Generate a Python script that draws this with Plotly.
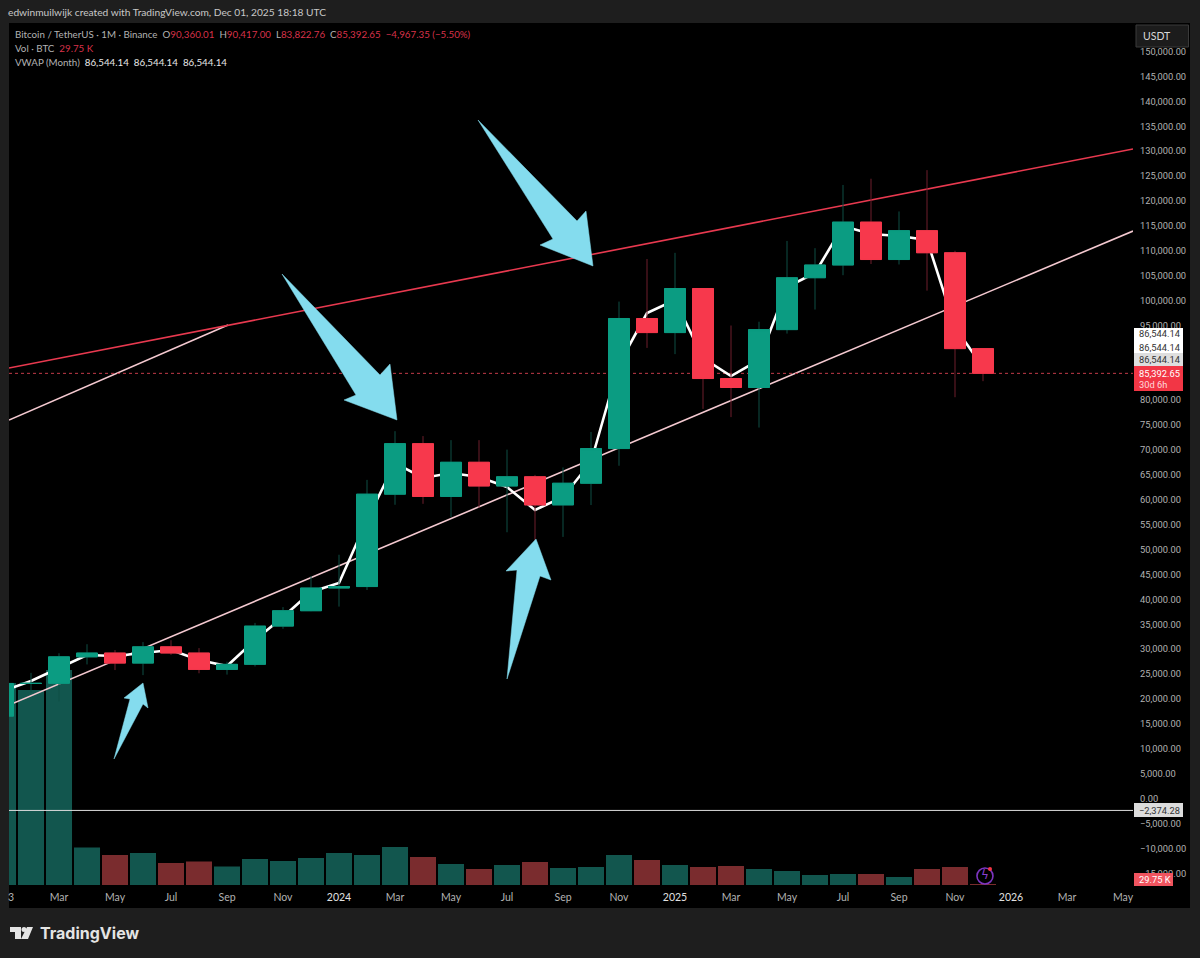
import plotly.graph_objects as go

# monthly candles, Jan 2023 -> Dec 2025
months = list(range(36))
opens = [16541, 23125, 23141, 28465, 29233, 27210, 30472, 29232, 25940, 26962, 34639, 37723,
         42283, 42580, 61130, 71280, 60672, 67540, 62772, 64628, 58974, 63327, 70292, 96407,
         93576, 102429, 84350, 82550, 94172, 104591, 107146, 115764, 108246, 114048, 109608, 90360]
highs = [23960, 25250, 29184, 31000, 29820, 31431, 31804, 30225, 27483, 35280, 38450, 44700,
         48969, 64000, 73777, 72797, 71979, 71980, 70079, 65000, 66498, 73620, 99800, 108353,
         109588, 102500, 95000, 95758, 111980, 110530, 123218, 124474, 117900, 126199, 110000, 90417]
lows = [16499, 21351, 19549, 26942, 25811, 24800, 28861, 25166, 24901, 26538, 34097, 37629,
        38555, 41884, 59005, 59191, 56552, 58402, 53485, 49000, 52550, 58946, 66835, 90500,
        89256, 78258, 76606, 74508, 93377, 98200, 105100, 107350, 107255, 102000, 80600, 83822]
closes = [23125, 23141, 28465, 29233, 27210, 30472, 29232, 25940, 26962, 34639, 37723, 42283,
          42580, 61130, 71280, 60672, 67540, 62772, 64628, 58974, 63327, 70292, 96407, 93576,
          102429, 84350, 82550, 94172, 104591, 107146, 115764, 108246, 114048, 109608, 90360, 85392.65]
# volume in thousand BTC
volumes = [6060, 5850, 6450, 1125, 900, 960, 660, 705, 555, 780, 720, 810,
           960, 900, 1140, 840, 630, 480, 600, 690, 510, 540, 900, 750,
           600, 540, 570, 480, 420, 300, 330, 330, 240, 480, 540, 29.75]
vwap = [21606, 23614, 26224, 28834, 28634, 29236, 29838, 27830, 26626, 31846, 36465, 41486,
        43292, 55942, 67388, 64376, 65380, 64578, 62570, 57950, 60562, 67590, 87267, 97508,
        100120, 88472, 84858, 88072, 102730, 105540, 114978, 113372, 112970, 112168, 94698, 86544.14]

last_price = 85392.65
zero_line = -2374.28

# drawn trendlines (month index, price)
red_x = [0.214, 40.357]
red_y = [86464, 130440]
pink_x = [0.214, 40.357]
pink_y = [18794, 113974]
stub_x = [0.214, 8.036]
stub_y = [76024, 95100]

# hand drawn arrows (month index, price)
arrow_a_x = [16.964, 20.5, 20.821, 21.071, 19.179, 19.643]
arrow_a_y = [136263, 115982, 117990, 106946, 111163, 112368]
arrow_b_x = [9.964, 13.464, 13.821, 14.071, 12.179, 12.607]
arrow_b_y = [105340, 85059, 87268, 76023, 80039, 81043]
arrow_c_x = [18.0, 18.357, 17.964, 19.036, 19.571, 19.179]
arrow_c_y = [24016, 45902, 45702, 52128, 43894, 44698]
arrow_d_x = [3.964, 4.536, 4.321, 5.0, 5.179, 5.0]
arrow_d_y = [7952, 19999, 20200, 23212, 18192, 18996]

tick_months = [0.29, 2, 4, 6, 8, 10, 12, 14, 16, 18, 20, 22, 24, 26, 28, 30, 32, 34, 36, 38, 40]
tick_names = ['3', 'Mar', 'May', 'Jul', 'Sep', 'Nov', '2024', 'Mar', 'May', 'Jul', 'Sep', 'Nov',
              '2025', 'Mar', 'May', 'Jul', 'Sep', 'Nov', '2026', 'Mar', 'May']
# 85k and 90k sit behind the price tags
price_ticks = [p for p in range(-15000, 150001, 5000) if p not in (85000, 90000)]

UP = '#0b9c82'
DOWN = '#f7384c'
UP_WICK = '#0e4f45'
DOWN_WICK = '#6e1f2c'
UP_VOL = '#12564e'
DOWN_VOL = '#7a2c2e'
ARROW = '#84dcee'
GREY = '#b2b2b2'
FONT = 'Lato'
NUM_FONT = 'Roboto'
NUM_SIZE = 9.3
PRICE_RANGE = [-17349, 155743]


# pixel -> paper helpers, only for the chrome around the plot
def px(x):
    return (x - 9) / 1124


def py(y):
    return (885 - y) / 862


fig = go.Figure()

# overlay axes stack in order: volume < lines < candles < arrows
vol_colors = [UP_VOL if c >= o else DOWN_VOL for o, c in zip(opens, closes)]
fig.add_trace(go.Bar(x=months, y=volumes, marker_color=vol_colors, marker_line_width=0, yaxis='y'))

for xs, ys, col in [(stub_x, stub_y, '#f4c9d0'), (red_x, red_y, '#e8394f'), (pink_x, pink_y, '#f4c9d0')]:
    fig.add_trace(go.Scatter(x=xs, y=ys, mode='lines', line=dict(color=col, width=1.6), yaxis='y2'))

fig.add_trace(go.Scatter(x=[0.214, 40.357], y=[last_price, last_price], mode='lines',
                         line=dict(color='#c23a48', width=1, dash='dot'), yaxis='y2'))
fig.add_trace(go.Scatter(x=[0.214, 40.357], y=[zero_line, zero_line], mode='lines',
                         line=dict(color='#dcdcdc', width=1), yaxis='y2'))
fig.add_trace(go.Scatter(x=months, y=vwap, mode='lines', line=dict(color='#ffffff', width=2.6), yaxis='y2'))

# dim wicks first, then bright bodies on top so the wick colour does not outline them
fig.add_trace(go.Candlestick(x=months, open=opens, high=highs, low=lows, close=closes, yaxis='y3',
                             increasing=dict(fillcolor=UP, line=dict(color=UP_WICK, width=1)),
                             decreasing=dict(fillcolor=DOWN, line=dict(color=DOWN_WICK, width=1)),
                             whiskerwidth=0))
body_tops = [max(o, c) for o, c in zip(opens, closes)]
body_bottoms = [min(o, c) for o, c in zip(opens, closes)]
fig.add_trace(go.Candlestick(x=months, open=opens, high=body_tops, low=body_bottoms, close=closes, yaxis='y3',
                             increasing=dict(fillcolor=UP, line=dict(color=UP, width=1)),
                             decreasing=dict(fillcolor=DOWN, line=dict(color=DOWN, width=1)),
                             whiskerwidth=0))

for xs, ys in [(arrow_a_x, arrow_a_y), (arrow_b_x, arrow_b_y), (arrow_c_x, arrow_c_y), (arrow_d_x, arrow_d_y)]:
    fig.add_trace(go.Scatter(x=xs + xs[:1], y=ys + ys[:1], mode='lines', fill='toself', fillcolor=ARROW,
                             line=dict(color=ARROW, width=0.5), yaxis='y4'))

# alert badge sitting on the last volume bar
fig.add_trace(go.Scatter(x=[35.07], y=[-15542], mode='markers+text', text=['ϟ'], textposition='middle center',
                         textfont=dict(color='#8a3fd0', size=12, family='DejaVu Sans'),
                         marker=dict(symbol='circle-open', size=16, color='#7d35c0', line=dict(width=1.6)), yaxis='y4'))
fig.add_trace(go.Scatter(x=[35.25], y=[-14138], mode='markers', marker=dict(size=4, color='#f23645'), yaxis='y4'))

shapes = [
    dict(type='rect', xref='paper', yref='paper', x0=px(9), x1=px(1190), y0=py(908), y1=py(23),
         fillcolor='#000000', line_width=0, layer='below'),
    dict(type='rect', xref='paper', yref='paper', x0=px(1136), x1=px(1188.5), y0=py(47), y1=py(25),
         fillcolor='#1c1c1c', line=dict(color='#3a3a3a', width=1)),
    dict(type='rect', xref='paper', yref='paper', x0=px(1134), x1=px(1183), y0=py(355), y1=py(328),
         fillcolor='#ffffff', line_width=0),
    dict(type='rect', xref='paper', yref='paper', x0=px(1134), x1=px(1183), y0=py(366), y1=py(353),
         fillcolor='#dedede', line_width=0),
    dict(type='rect', xref='paper', yref='paper', x0=px(1134), x1=px(1183), y0=py(391), y1=py(366),
         fillcolor='#f23645', line_width=0),
    dict(type='rect', xref='paper', yref='paper', x0=px(1134), x1=px(1183), y0=py(817), y1=py(803),
         fillcolor='#dcdcdc', line_width=0),
    dict(type='rect', xref='paper', yref='paper', x0=px(1134), x1=px(1173), y0=py(886), y1=py(873),
         fillcolor='#f0545f', line_width=0),
    # tradingview glyph
    dict(type='path', xref='paper', yref='paper', line_width=0, fillcolor='#e4e4e4',
         path=f'M {px(10)} {py(927)} L {px(21)} {py(927)} L {px(21)} {py(939)} L {px(15)} {py(939)} '
              f'L {px(15)} {py(932)} L {px(10)} {py(932)} Z'),
    dict(type='circle', xref='paper', yref='paper', line_width=0, fillcolor='#e4e4e4',
         x0=px(21.5), x1=px(26.5), y0=py(932), y1=py(927)),
    dict(type='path', xref='paper', yref='paper', line_width=0, fillcolor='#e4e4e4',
         path=f'M {px(27)} {py(927)} L {px(33)} {py(927)} L {px(28)} {py(939)} L {px(21)} {py(939)} Z'),
]


def label(x, y, text, color=GREY, size=10.5, family=FONT, **kw):
    return dict(xref='paper', yref='paper', x=px(x), y=py(y), text=text, showarrow=False,
                xanchor='left', yanchor='middle', font=dict(color=color, size=size, family=family), **kw)


RED_TXT = '#d8324a'
legend1 = ('Bitcoin / TetherUS · 1M · Binance  '
           f'O<span style="color:{RED_TXT}">90,360.01</span>  H<span style="color:{RED_TXT}">90,417.00</span>  '
           f'L<span style="color:{RED_TXT}">83,822.76</span>  C<span style="color:{RED_TXT}">85,392.65</span>  '
           f'<span style="color:{RED_TXT}">−4,967.35 (−5.50%)</span>')
legend2 = f'Vol · BTC  <span style="color:{RED_TXT}">29.75 K</span>'
legend3 = 'VWAP (Month)  <span style="color:#e8e8e8">86,544.14  86,544.14  86,544.14</span>'

annotations = [
    label(6, 12, 'edwinmuilwijk created with TradingView.com, Dec 01, 2025 18:18 UTC', color='#c8c8c8', size=10.2),
    label(13, 34, legend1, size=9.75),
    label(13, 48, legend2, size=9.75),
    label(13, 62, legend3, size=9.75),
    label(1141, 36, 'USDT', color='#d8d8d8', size=10.5),
    label(1137, 334, '86,544.14', color='#333333', size=NUM_SIZE, family=NUM_FONT),
    label(1137, 347, '86,544.14', color='#333333', size=NUM_SIZE, family=NUM_FONT),
    label(1137, 360, '86,544.14', color='#333333', size=NUM_SIZE, family=NUM_FONT),
    label(1137, 373, '85,392.65', color='#ffffff', size=NUM_SIZE, family=NUM_FONT),
    label(1137, 384, '30d 6h', color='#ffd9dc', size=NUM_SIZE, family=NUM_FONT),
    label(1137, 810, '−2,374.28', color='#333333', size=NUM_SIZE, family=NUM_FONT),
    label(1137, 879, '29.75 K', color='#ffffff', size=NUM_SIZE, family=NUM_FONT),
    label(38, 933, '<b>TradingView</b>', color='#e4e4e4', size=16, family='Inter'),
]

fig.update_layout(
    width=1200, height=958,
    margin=dict(l=9, r=67, t=23, b=73, pad=0),
    paper_bgcolor='#1e1e1e', plot_bgcolor='#000000',
    showlegend=False, bargap=0.07, boxgap=0.25, boxgroupgap=0,
    font=dict(family=FONT, color=GREY, size=10),
    shapes=shapes, annotations=annotations,
    xaxis=dict(range=[0.214, 40.357], tickmode='array', tickvals=tick_months,
               ticktext=[f'<span style="color:#e0e0e0">{t}</span>' if t.startswith('20') else t for t in tick_names],
               showgrid=False, zeroline=False, showline=False, ticks='', rangeslider_visible=False,
               ticklabelstandoff=4, tickfont=dict(size=10.5, color=GREY)),
    yaxis=dict(range=[0, 25860], visible=False, fixedrange=True),
    yaxis2=dict(overlaying='y', side='right', range=PRICE_RANGE, tickmode='array', tickvals=price_ticks,
                tickformat=',.2f', showgrid=False, zeroline=False, showline=False, ticks='',
                ticklabelstandoff=6, tickfont=dict(size=NUM_SIZE, color=GREY, family=NUM_FONT)),
    yaxis3=dict(overlaying='y', side='right', range=PRICE_RANGE, visible=False),
    yaxis4=dict(overlaying='y', side='right', range=PRICE_RANGE, visible=False),
)

fig.write_html("out.html", config={'displayModeBar': False},
               post_script="document.body.style.margin='0';document.body.style.overflow='hidden';")
